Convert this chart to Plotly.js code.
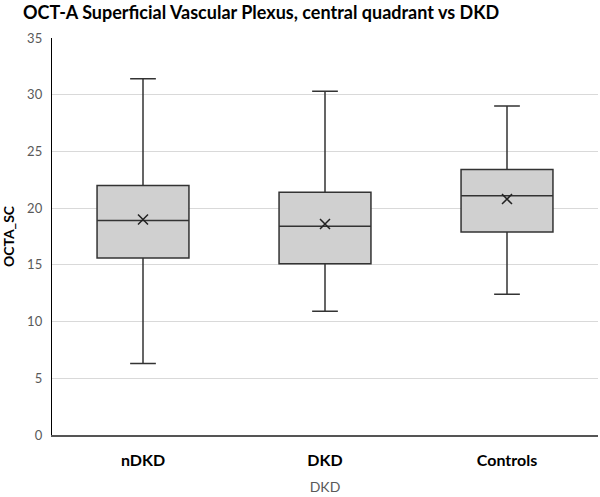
<!DOCTYPE html>
<html>
<head>
<meta charset="utf-8">
<script src="https://cdn.plot.ly/plotly-3.0.1.min.js"></script>
<style>html,body{margin:0;padding:0;background:#fff;}#chart{width:600px;height:497px;}</style>
</head>
<body>
<div id="chart"></div>
<script>
var categories = ["nDKD", "DKD", "Controls"];
var lowerWhisker = [6.3, 10.9, 12.4];
var q1Values = [15.6, 15.1, 17.9];
var medianValues = [18.9, 18.4, 21.1];
var q3Values = [22.0, 21.4, 23.4];
var upperWhisker = [31.4, 30.3, 29.0];
var meanValues = [19.0, 18.6, 20.8];
var yTicks = [0, 5, 10, 15, 20, 25, 30, 35];

var FONT = "Lato, 'Open Sans', sans-serif";

var boxTrace = {
  type: "box",
  x: categories,
  q1: q1Values,
  median: medianValues,
  q3: q3Values,
  lowerfence: lowerWhisker,
  upperfence: upperWhisker,
  boxpoints: false,
  width: 0.505,
  whiskerwidth: 0.28,
  fillcolor: "#d0d0d0",
  line: {color: "#333333", width: 1.5},
  hoverinfo: "skip",
  showlegend: false
};

var meanTrace = {
  type: "scatter",
  mode: "markers",
  x: categories,
  y: meanValues,
  marker: {symbol: "x-thin", size: 10, line: {color: "#222222", width: 1.5}, color: "#222222"},
  hoverinfo: "skip",
  showlegend: false
};

var layout = {
  width: 600,
  height: 497,
  margin: {l: 52, r: 2, t: 38, b: 62},
  paper_bgcolor: "#ffffff",
  plot_bgcolor: "#ffffff",
  title: {
    text: "OCT-A Superficial Vascular Plexus, central quadrant vs DKD",
    font: {family: FONT, size: 18, color: "#000000", weight: "bold"},
    xref: "container", x: 23/600, xanchor: "left",
    yref: "container", y: 1 - 13/497, yanchor: "middle"
  },
  xaxis: {
    type: "category",
    categoryorder: "array",
    categoryarray: categories,
    range: [-0.5, 2.5],
    autorange: false,
    showline: true,
    linecolor: "#555555",
    linewidth: 1.5,
    showgrid: false,
    zeroline: false,
    ticks: "",
    ticklabelstandoff: 10,
    tickfont: {family: FONT, size: 16, color: "#000000", weight: "bold"},
    title: {text: "DKD", font: {family: FONT, size: 14, color: "#595959"}, standoff: 14}
  },
  yaxis: {
    range: [0, 35],
    autorange: false,
    tickvals: yTicks,
    ticktext: yTicks.map(String),
    showline: true,
    linecolor: "#000000",
    linewidth: 1.2,
    showgrid: true,
    gridcolor: "#d9d9d9",
    gridwidth: 1,
    zeroline: false,
    ticks: "",
    ticklabelstandoff: 6,
    tickfont: {family: FONT, size: 13, color: "#595959"},
    title: {text: "OCTA_SC", font: {family: FONT, size: 14, color: "#000000", weight: "bold"}, standoff: 12}
  }
};

Plotly.newPlot("chart", [boxTrace, meanTrace], layout, {displayModeBar: false, staticPlot: true});
</script>
</body>
</html>
